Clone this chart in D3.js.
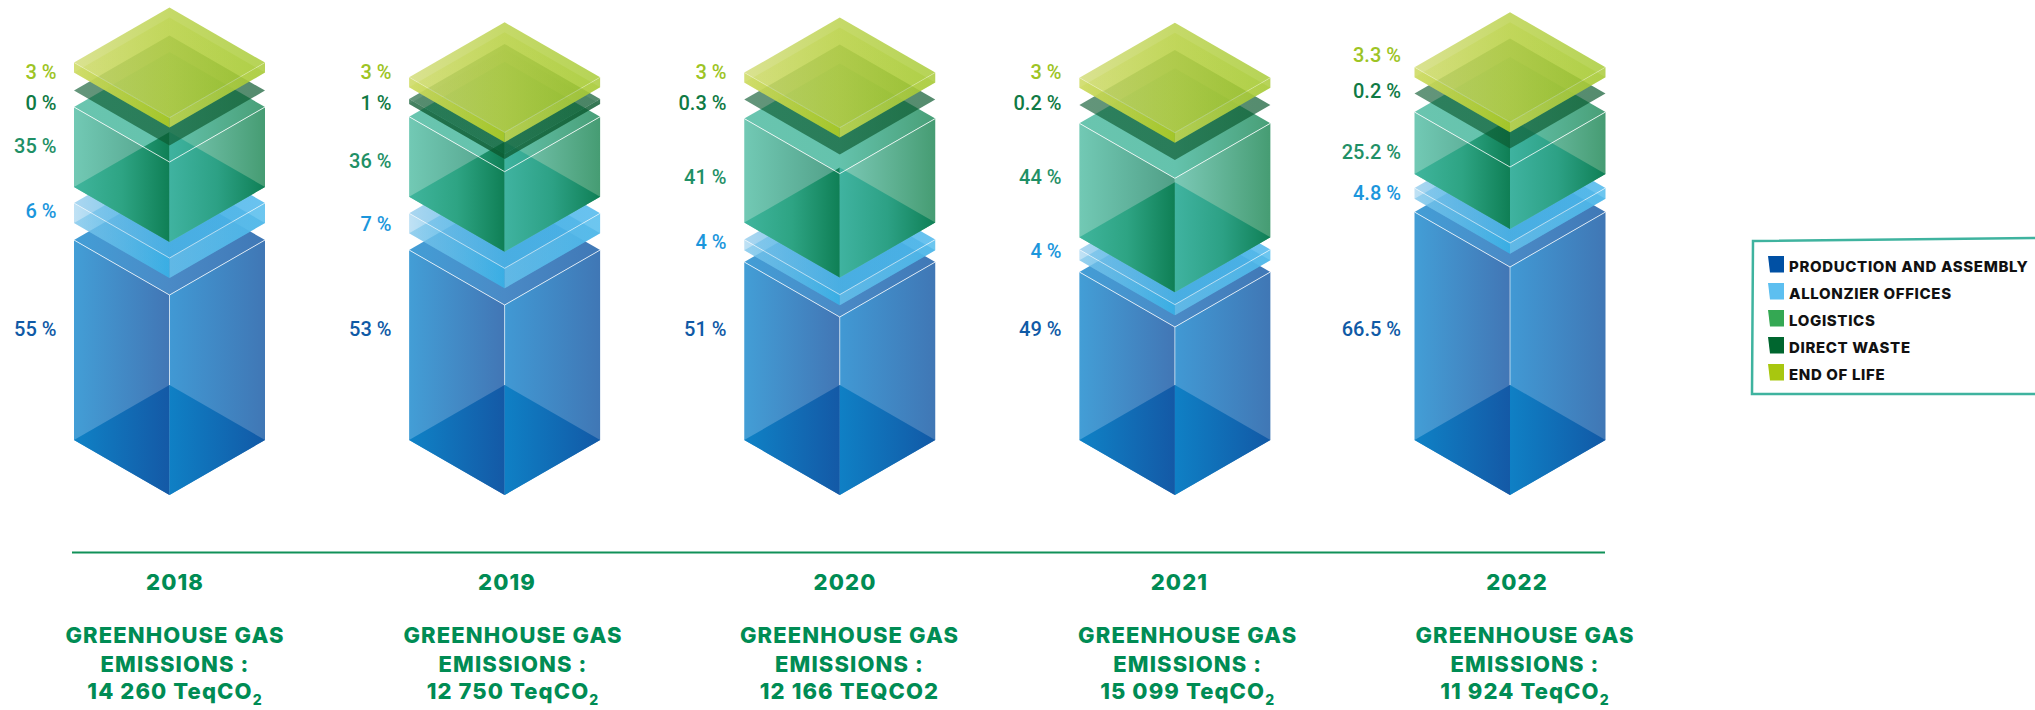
<!DOCTYPE html>
<html><head><meta charset="utf-8">
<script src="https://cdn.jsdelivr.net/npm/d3@7"></script>
<style>html,body{margin:0;padding:0;background:#fff;overflow:hidden}svg{display:block}</style>
</head><body><svg id="c" width="2035" height="710"></svg>
<script>
// ---- data ----
const years = ["2018","2019","2020","2021","2022"];
const categories = ["PRODUCTION AND ASSEMBLY","ALLONZIER OFFICES","LOGISTICS","DIRECT WASTE","END OF LIFE"];
const production = [55,53,51,49,66.5];
const offices = [6,7,4,4,4.8];
const logistics = [35,36,41,44,25.2];
const directWaste = [0,1,0.3,0.2,0.2];
const endOfLife = [3,3,3,3,3.3];
const emissions = ["14 260 TeqCO","12 750 TeqCO","12 166 TEQCO2","15 099 TeqCO","11 924 TeqCO"];
const subscript = ["2","2","","2","2"];
const series = [production,offices,logistics,directWaste,endOfLife];

// ---- layout ----
const W=2035,H=710,HW=95.5,HD=55,BASE=440;
const svg=d3.select("#c"),defs=svg.append("defs");
const x=d3.scalePoint().domain(years).range([169.5,1510]);
// drawn height of a segment: the infographic is not to scale, so this is a piecewise scale
const h=d3.scaleLinear()
 .domain([0,0.3,1,3,3.3,4,4.8,6,7,25.2,35,36,41,44,49,51,53,55,66.5])
 .range([0,0,5,10,10,10.7,10.7,20,20,62,80,80,104,114,168,178,190,200,228]);
const gaps=[[17,16,16.4,18],[16.7,16.6,12.7,11.7],[11.7,17,19,17],[11.7,12.3,18.3,17.3],[13.3,14,18.4,16.4]];
const labelRight=[56.5,391.5,726.5,1061.5,1401];
const labelBase=[[336,218,153,110,78.7],[336,231,168,110,79],[336,249,184,110,79],[336,257.7,184,110,79],[336,200,159,98.3,61.7]];
const labelColor=["#0f5aa6","#1b96dc","#1f9066","#0f7a44","#9dc424"];
const swatch=["#0050a4","#5dbff0","#34a853","#00662f","#a8c70f"];
const titleX=[175,513,849.5,1187.7,1525],yearX=[175,507,845,1179.4,1517];

// stops: [colour,opacity] left->right
const pal=[
 {top:[["#439ed6",1],["#4a8ac6",1],["#4078b6",1]],left:[["#439ed6",1],["#4276b5",1]],right:[["#4199d4",1],["#4077b5",1]],
  bl:[["#0f82c6",1],["#1459a6",1]],br:[["#0f80c5",1],["#1259a6",1]],line:.75},
 {top:[["#9cd0ee",.85],["#55b5e6",.9],["#58bcee",.9]],left:[["#a5d5f0",.7],["#3bb0e5",1]],right:[["#78c0e8",1],["#5cc0ee",.9]],
  bl:[["#36a9e1",.3],["#36a9e1",.35]],br:[["#36a9e1",.35],["#36a9e1",.4]],line:.6},
 {top:[["#62c2ab",.95],["#5cbfa8",.95],["#3f9a70",.95]],left:[["#6fc8b3",.98],["#4d9d84",.98]],right:[["#70c4b0",.92],["#429a70",.98]],
  bl:[["#3ab39a",.9],["#2ba382",.95],["#0f7f55",1]],br:[["#3db29f",.95],["#2aa084",.95],["#0f7f55",1]],line:.8},
 {top:[["#0c5a30",.64],["#0c5a30",.7]],left:[["#0c5a30",.72],["#0c5a30",.8]],right:[["#0c5a30",.72],["#0c5a30",.8]],
  bl:[["#0c5a30",.15],["#0c5a30",.15]],br:[["#0c5a30",.15],["#0c5a30",.15]],line:0},
 {top:[["#d2dc78",.82],["#bcd350",.86],["#a6ca32",.82]],left:[["#d0dc68",.9],["#a0c526",.98]],right:[["#c2d860",.9],["#aacb3a",.85]],
  bl:[["#c4d548",.25],["#b3cd30",.25]],br:[["#b3cd30",.25],["#98c21a",.25]],line:.3}
];
let gid=0;
function grad(stops){
 const id="g"+(gid++);
 const g=defs.append("linearGradient").attr("id",id).attr("x1",0).attr("x2",1).attr("y1",0).attr("y2",0);
 stops.forEach((s,i)=>g.append("stop").attr("offset",i/(stops.length-1)).attr("stop-color",s[0]).attr("stop-opacity",s[1]));
 return "url(#"+id+")";
}
const fills=pal.map(p=>({top:grad(p.top),left:grad(p.left),right:grad(p.right),bl:grad(p.bl),br:grad(p.br)}));
const line=d3.line();

years.forEach((yr,i)=>{
 const cx=x(yr),g=svg.append("g");
 let cur=BASE;
 series.forEach((s,k)=>{
  const v=s[i],ht=h(v),b=cur,t=b-ht,f=fills[k];
  const L=cx-HW,R=cx+HW;
  const poly=(pts,fill)=>g.append("path").attr("d",line(pts)+"Z").attr("fill",fill);
  poly([[L,t],[cx,t-HD],[R,t],[cx,t+HD]],f.top);
  if(ht>0){
   poly([[L,t],[cx,t+HD],[cx,b+HD],[L,b]],f.left);
   poly([[R,t],[cx,t+HD],[cx,b+HD],[R,b]],f.right);
   poly([[L,b],[cx,b-HD],[cx,b+HD]],f.bl);
   poly([[R,b],[cx,b-HD],[cx,b+HD]],f.br);
  }
  if(pal[k].line>0){
   g.append("path").attr("d",line([[L,t],[cx,t+HD],[R,t]])).attr("fill","none")
    .attr("stroke","#fff").attr("stroke-opacity",pal[k].line).attr("stroke-width",1);
  }
  if(k===0){
   g.append("path").attr("d",line([[cx,t+HD],[cx,b-HD]])).attr("stroke","#fff").attr("stroke-opacity",.6).attr("stroke-width",1);
  }
  g.append("text").attr("x",labelRight[i]).attr("y",labelBase[i][k]).attr("text-anchor","end")
   .attr("font-family","Roboto").attr("font-weight",500).attr("font-size",20).attr("fill",labelColor[k]).text(v+" %");
  cur=t-(gaps[i][k]||0);
 });
 // captions
 const tx=(xx,yy,str)=>svg.append("text").attr("x",xx).attr("y",yy).attr("text-anchor","middle")
   .attr("font-family","Inter").attr("font-weight",800).attr("font-size",22).attr("letter-spacing",1.1).attr("fill","#008c54").text(str);
 tx(yearX[i],589.5,yr);
 tx(titleX[i],643.3,"GREENHOUSE GAS");
 tx(titleX[i],671.7,"EMISSIONS :");
 const last=tx(titleX[i],699.3,emissions[i]);
 if(subscript[i]) last.append("tspan").attr("font-size",14).attr("dy",6).text(subscript[i]);
});

svg.append("line").attr("x1",72).attr("x2",1605).attr("y1",552.5).attr("y2",552.5).attr("stroke","#119159").attr("stroke-width",2);

// legend
svg.append("path").attr("d",line([[2035,238],[1753,241],[1752,394],[2035,394]])).attr("fill","none").attr("stroke","#3fb39f").attr("stroke-width",2.5);
categories.forEach((c,i)=>{
 const y0=256+i*27;
 svg.append("path").attr("d",line([[1768,y0],[1784,y0],[1784,y0+16.5],[1770,y0+16.5]])+"Z").attr("fill",swatch[i]);
 svg.append("text").attr("x",1789).attr("y",y0+16).attr("font-family","Inter").attr("font-weight",800)
  .attr("font-size",15).attr("letter-spacing",0.65).attr("fill","#111").text(c);
});
</script></body></html>
